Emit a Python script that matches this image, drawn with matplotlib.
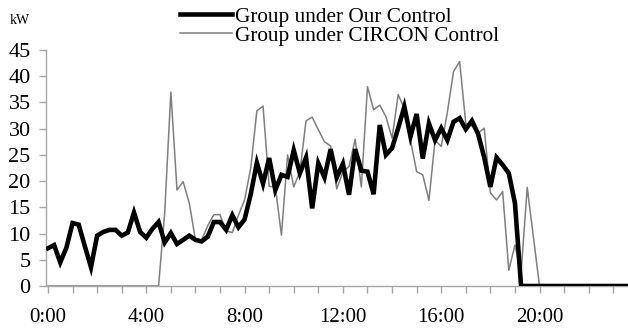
import numpy as np
import matplotlib
matplotlib.use("Agg")
import matplotlib.pyplot as plt

# 15 minute readings over one day (kW)
ours = [7.2, 7.8, 4.5, 7.3, 12.0, 11.7, 7.6, 3.6, 9.6, 10.3,
        10.7, 10.7, 9.6, 10.2, 14.0, 10.3, 9.2, 10.9, 12.2, 8.3,
        10.1, 8.0, 8.8, 9.6, 8.8, 8.5, 9.4, 12.2, 12.2, 10.7,
        13.5, 11.2, 12.7, 17.5, 23.5, 19.5, 24.4, 18.3, 21.2, 20.8,
        25.9, 21.5, 24.5, 14.8, 23.4, 20.7, 26.1, 20.7, 23.3, 17.4,
        26.1, 22.0, 21.8, 17.5, 30.7, 25.0, 26.3, 30.1, 34.2, 28.5,
        32.8, 24.3, 31.0, 27.8, 30.1, 27.8, 31.3, 32.0, 29.9, 31.5,
        29.0, 24.5, 18.9, 24.5, 23.1, 21.5, 15.8] + [0.0] * 19

circon = [0.0] * 19 + [
        14.0, 37.0, 18.3, 19.9, 15.8, 8.8, 8.7, 11.5, 13.6, 13.6,
        10.5, 10.2, 13.5, 16.4, 22.5, 33.4, 34.3, 19.0, 18.9, 9.7,
        25.0, 18.9, 21.8, 31.5, 32.2, 29.8, 27.5, 26.7, 18.5, 21.8,
        22.8, 28.0, 18.9, 38.0, 33.6, 34.5, 32.3, 28.2, 36.5, 33.8,
        27.8, 21.8, 21.2, 16.3, 27.8, 26.6, 33.1, 40.9, 42.8, 31.0,
        30.5, 29.1, 30.1, 17.8, 16.4, 18.0, 3.0, 7.8, 2.5, 18.8,
        9.4] + [0.0] * 16

hours = np.arange(len(ours)) * 0.25
label_hours = [0, 4, 8, 12, 16, 20]
labels = ["0:00", "4:00", "8:00", "12:00", "16:00", "20:00"]

plt.rcParams['font.family'] = ['Liberation Serif', 'DejaVu Serif']

fig = plt.figure(figsize=(6.28, 3.29), dpi=100)
ax = fig.add_axes([46 / 628, 1 - 286 / 329, 582 / 628, 236 / 329])

ax.plot(hours, ours, color='black', lw=3.3, solid_joinstyle='miter',
        label='Group under Our Control', zorder=3)
ax.plot(hours, circon, color='#7f7f7f', lw=1.1,
        label='Group under CIRCON Control', zorder=2)

ax.set_xlim(-0.08, 23.6)
ax.set_ylim(0, 45)
ax.set_yticks(np.arange(0, 46, 5))
ax.set_xticks(label_hours)
ax.set_xticklabels(labels)
ax.set_xticks(np.arange(0, 24, 1), minor=True)

for s in ['top', 'right']:
    ax.spines[s].set_visible(False)
for s in ['left', 'bottom']:
    ax.spines[s].set_color('#a6a6a6')
    ax.spines[s].set_linewidth(1.0)

ax.tick_params(axis='both', which='both', color='#a6a6a6', length=5, width=1)
ax.tick_params(axis='y', labelsize=16, pad=6)
ax.tick_params(axis='x', labelsize=15, pad=11)

fig.text(0.016, 1 - 21 / 329, 'kW', fontsize=10, va='center', ha='left')

fig.legend(loc='upper left', bbox_to_anchor=(180 / 628, 1 - 7 / 329), frameon=False,
           fontsize=15.3, handlelength=2.45, handletextpad=0.15,
           labelspacing=-0.05, borderpad=0.0, borderaxespad=0)

plt.savefig("out.png", dpi=100)
plt.close()
